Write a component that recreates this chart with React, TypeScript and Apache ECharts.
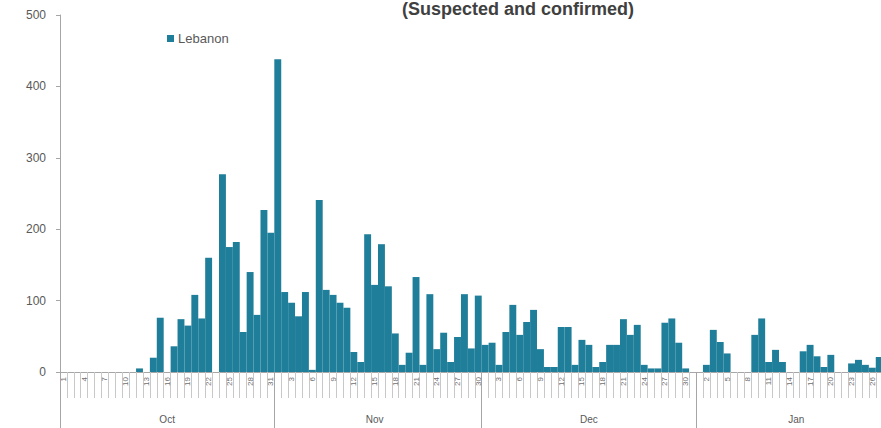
import React, { useEffect, useRef } from "react";
import * as echarts from "echarts";

const MONTHS = ["Oct", "Nov", "Dec", "Jan"];
const MONTH_DAYS = [31, 30, 31, 29];

const OCT_VALUES = [0, 0, 0, 0, 0, 0, 0, 0, 0, 0, 0, 5, 0, 20, 76, 0, 36, 74, 65, 108, 75, 160, 0, 277, 175, 182, 56, 140, 80, 227, 195];
const NOV_VALUES = [438, 112, 97, 78, 112, 3, 241, 115, 108, 97, 90, 28, 14, 193, 122, 179, 120, 54, 10, 27, 133, 10, 109, 32, 55, 14, 49, 109, 33, 107];
const DEC_VALUES = [38, 41, 10, 56, 94, 52, 70, 87, 32, 7, 7, 63, 63, 10, 45, 38, 7, 14, 38, 38, 74, 52, 66, 10, 5, 5, 69, 75, 41, 5, 0];
const JAN_VALUES = [0, 10, 59, 42, 26, 0, 0, 0, 52, 75, 14, 31, 14, 0, 0, 29, 38, 22, 7, 24, 0, 0, 12, 17, 10, 6, 21, null, null];

const Y_TICKS = [0, 100, 200, 300, 400, 500];
const SERIES_NAME = "Lebanon";
const SUBTITLE = "(Suspected and confirmed)";

const categories: string[] = [];
MONTHS.forEach((m, mi) => {
  for (let d = 1; d <= MONTH_DAYS[mi]; d++) categories.push(`${m} ${d}`);
});
const values = [...OCT_VALUES, ...NOV_VALUES, ...DEC_VALUES, ...JAN_VALUES];

const boundaries: number[] = [];
const mids: number[] = [];
{
  let start = 0;
  MONTH_DAYS.forEach((n) => {
    boundaries.push(start);
    mids.push(start + Math.floor((n - 1) / 2));
    start += n;
  });
}
const VISIBLE_DAYS = 119;

export default function App() {
  const ref = useRef<HTMLDivElement>(null);
  useEffect(() => {
    if (!ref.current) return;
    const chart = echarts.init(ref.current, undefined, { renderer: "svg" });
    const gray = "#595959";
    chart.setOption({
      animation: false,
      backgroundColor: "#ffffff",
      textStyle: { fontFamily: "Liberation Sans" },
      graphic: [
        {
          type: "text",
          x: 518,
          y: 0,
          style: {
            text: SUBTITLE,
            fill: "#404040",
            fontSize: 18,
            fontWeight: "bold",
            fontFamily: "Liberation Sans",
            align: "center",
            verticalAlign: "top",
          },
        },
      ],
      legend: {
        left: 162,
        top: 27,
        itemWidth: 7,
        itemHeight: 7,
        icon: "rect",
        textStyle: { color: gray, fontSize: 13, fontFamily: "Liberation Sans", padding: [0, 0, 0, -1] },
        data: [SERIES_NAME],
      },
      grid: { left: 60, top: 15, bottom: 56, width: 836.5 },
      xAxis: [
        {
          type: "category",
          data: categories,
          position: "bottom",
          axisLine: { show: true, lineStyle: { color: "#a6a6a6", width: 1 } },
          axisTick: { show: true, interval: 0, length: 26, lineStyle: { color: "#c8c8c8", width: 1 } },
          axisLabel: {
            interval: (i: number) => i % 3 === 0 && i < VISIBLE_DAYS - 1,
            rotate: 90,
            fontSize: 8,
            color: "#6f6f6f",
            margin: 5,
            formatter: (v: string) => v.split(" ")[1],
          },
          splitLine: { show: false },
        },
        {
          type: "category",
          data: categories,
          position: "bottom",
          offset: 0,
          axisLine: { show: false },
          axisTick: {
            show: true,
            length: 56,
            interval: (i: number) => boundaries.includes(i),
            lineStyle: { color: "#a6a6a6", width: 1 },
          },
          axisLabel: {
            interval: (i: number) => mids.includes(i),
            fontSize: 10,
            color: gray,
            margin: 42,
            formatter: (v: string) => v.split(" ")[0],
          },
          splitLine: { show: false },
        },
      ],
      yAxis: {
        type: "value",
        min: Y_TICKS[0],
        max: Y_TICKS[Y_TICKS.length - 1],
        interval: 100,
        axisLine: { show: true, lineStyle: { color: "#a6a6a6" } },
        axisTick: { show: true, length: 4, lineStyle: { color: "#a6a6a6" } },
        axisLabel: { fontSize: 12, color: gray, margin: 14 },
        splitLine: { show: false },
      },
      series: [
        {
          name: SERIES_NAME,
          type: "bar",
          xAxisIndex: 0,
          data: values,
          barCategoryGap: "0%",
          itemStyle: { color: "#1f7e99" },
        },
      ],
    });
    return () => chart.dispose();
  }, []);
  return (
    <div style={{ position: "fixed", left: 0, top: 0, width: 881, height: 428, overflow: "hidden", background: "#fff" }}>
      <div ref={ref} style={{ width: 910, height: 428 }} />
    </div>
  );
}
